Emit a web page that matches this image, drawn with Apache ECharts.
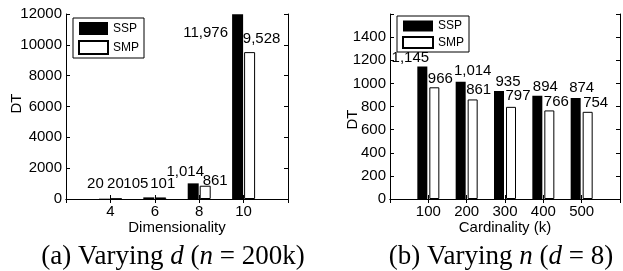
<!DOCTYPE html>
<html>
<head>
<meta charset="utf-8">
<script src="https://cdn.jsdelivr.net/npm/echarts@6/dist/echarts.min.js"></script>
<style>
html, body { margin: 0; padding: 0; background: #fff; }
#main { width: 623px; height: 271px; }
</style>
</head>
<body>
<div id="main"></div>
<script>
// (a) varying dimensionality
var dimCats = ['2', '4', '6', '8', '10', '12'];
var dimSSP = [null, 20, 105, 1014, 11976, null];
var dimSMP = [null, 20, 101, 861, 9528, null];
var dimTicks = [0, 12000, 2000];

// (b) varying cardinality
var cardCats = ['0', '100', '200', '300', '400', '500', '600'];
var cardSSP = [null, 1145, 1014, 935, 894, 874, null];
var cardSMP = [null, 966, 861, 797, 766, 754, null];
var cardTicks = [0, 1600, 200];

// hand placed value labels (dx, dy), like in the paper figure
var dimSSPOff = [null, [-9, -7], [-13, -6], [-8, -4], [-32, 26], null];
var dimSMPOff = [null, [-1, -7], [2, -6], [10, 3], [12, -6], null];
var cardSSPOff = [null, [-12, -1], [12, -3], [9, -2], [8, -1], [6, -3], null];
var cardSMPOff = [null, [6, -1], [6, -2], [7, -3], [7, -1], [8, -1], null];

var FONT = '"Liberation Sans", Arial, Helvetica, sans-serif';
var SERIF = '"Liberation Serif", "Times New Roman", serif';

function fmt(v) {
    return v == null ? '' : v.toLocaleString('en-US');
}

function withLabels(vals, offs) {
    return vals.map(function (v, i) {
        if (v == null) return null;
        return {value: v, label: {offset: offs[i]}};
    });
}

function barLabel() {
    return {
        show: true, position: 'top', distance: 0,
        fontSize: 15, lineHeight: 15, color: '#000', fontFamily: FONT,
        formatter: function (p) { return fmt(p.value); }
    };
}

function catAxis(grid, cats, pos, labels, name) {
    return {
        type: 'category', gridIndex: grid, data: cats, boundaryGap: false, position: pos,
        axisLine: {lineStyle: {color: '#000', width: 1}},
        axisTick: {inside: true, length: 4, lineStyle: {color: '#000'}},
        axisLabel: {
            show: labels, margin: 5, fontSize: 15, color: '#000', fontFamily: FONT,
            formatter: function (v, i) { return (i === 0 || i === cats.length - 1) ? '' : v; }
        },
        name: name, nameLocation: 'middle', nameGap: 21, nameMoveOverlap: false,
        nameTextStyle: {fontSize: 15, color: '#000', fontFamily: FONT}
    };
}

function valAxis(grid, ticks, pos, labels, name, gap, pad, hideTop) {
    return {
        type: 'value', gridIndex: grid, min: ticks[0], max: ticks[1], interval: ticks[2], position: pos,
        splitLine: {show: false},
        axisLine: {show: true, lineStyle: {color: '#000', width: 1}},
        axisTick: {show: true, inside: true, length: 4, lineStyle: {color: '#000'}},
        axisLabel: {
            show: labels, margin: 4, fontSize: 15, color: '#000', fontFamily: FONT,
            formatter: function (v) { return (hideTop && v === ticks[1]) ? '' : String(v); }
        },
        name: name, nameLocation: 'middle', nameGap: gap, nameMoveOverlap: false,
        nameTextStyle: {fontSize: 15, color: '#000', fontFamily: FONT, padding: pad}
    };
}

function legendAt(left, top, w, h, gap) {
    return {
        data: [{name: 'SSP', icon: 'rect'}, {name: 'SMP', icon: 'rect'}],
        orient: 'vertical', left: left, top: top,
        itemWidth: w, itemHeight: h, itemGap: gap, padding: [4, 5, 3, 5],
        borderColor: '#000', borderWidth: 1,
        textStyle: {fontSize: 12, color: '#000', fontFamily: FONT}
    };
}

function caption(x, txt) {
    return {
        type: 'text', x: x, y: 257,
        style: {
            text: txt, fontFamily: SERIF, fontSize: 27,
            fill: '#000', align: 'center', verticalAlign: 'middle',
            rich: {i: {fontStyle: 'italic', fontSize: 27, fontFamily: SERIF}}
        }
    };
}

var chart = echarts.init(document.getElementById('main'));
chart.setOption({
    animation: false,
    textStyle: {fontFamily: FONT},
    grid: [
        {left: 66, right: 335, top: 14, bottom: 72},
        {left: 390, right: -1, top: 14, bottom: 72}
    ],
    legend: [
        legendAt(73, 18, 29, 13, 5),
        legendAt(397, 16, 30, 11, 4)
    ],
    xAxis: [
        catAxis(0, dimCats, 'bottom', true, 'Dimensionality'),
        catAxis(0, dimCats, 'top', false, ''),
        catAxis(1, cardCats, 'bottom', true, 'Cardinality (k)'),
        catAxis(1, cardCats, 'top', false, '')
    ],
    yAxis: [
        valAxis(0, dimTicks, 'left', true, 'DT', 42, [0, 0, 0, 6], false),
        valAxis(0, dimTicks, 'right', false, '', 0, 0, false),
        valAxis(1, cardTicks, 'left', true, 'DT', 30, [0, 26, 0, 0], true),
        valAxis(1, cardTicks, 'right', false, '', 0, 0, false)
    ],
    series: [
        {
            name: 'SSP', type: 'bar', xAxisIndex: 0, yAxisIndex: 0,
            barWidth: 11, barGap: '9%',
            itemStyle: {color: '#000'},
            label: barLabel(), data: withLabels(dimSSP, dimSSPOff)
        },
        {
            name: 'SMP', type: 'bar', xAxisIndex: 0, yAxisIndex: 0,
            barWidth: 11, barGap: '9%',
            itemStyle: {color: '#fff', borderColor: '#000', borderWidth: 1},
            label: barLabel(), data: withLabels(dimSMP, dimSMPOff)
        },
        {
            name: 'SSP', type: 'bar', xAxisIndex: 2, yAxisIndex: 2,
            barWidth: 10, barGap: '20%',
            itemStyle: {color: '#000'},
            label: barLabel(), data: withLabels(cardSSP, cardSSPOff)
        },
        {
            name: 'SMP', type: 'bar', xAxisIndex: 2, yAxisIndex: 2,
            barWidth: 10, barGap: '20%',
            itemStyle: {color: '#fff', borderColor: '#000', borderWidth: 1},
            label: barLabel(), data: withLabels(cardSMP, cardSMPOff)
        }
    ],
    graphic: [
        caption(173, '(a) Varying {i|d} ({i|n} = 200k)'),
        caption(501, '(b) Varying {i|n} ({i|d} = 8)')
    ]
});
</script>
</body>
</html>
